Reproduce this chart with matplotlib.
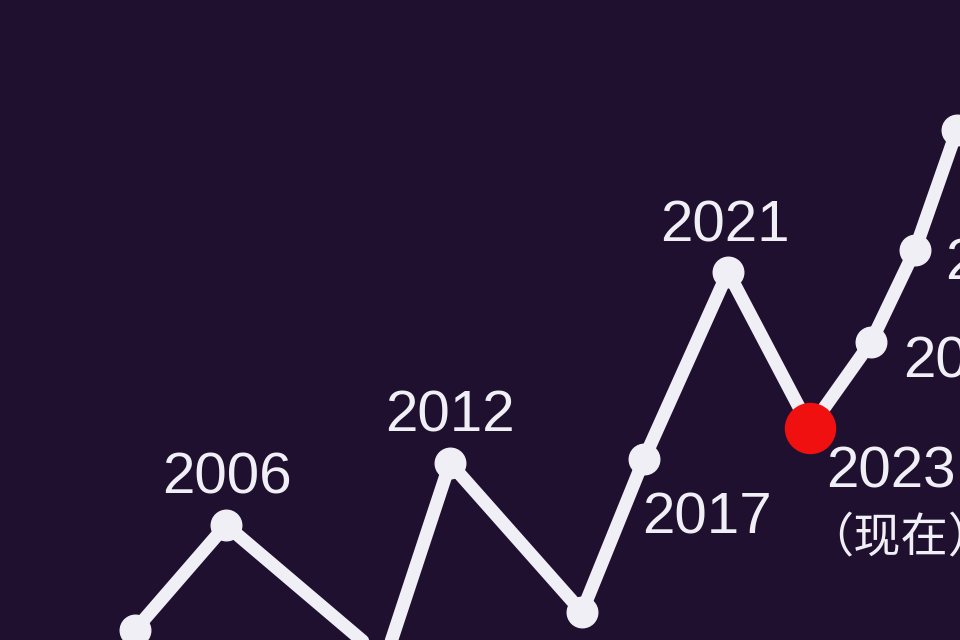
import matplotlib
matplotlib.use("Agg")
import matplotlib.pyplot as plt

# 각 점의 위치와 값
positions = [135, 226, 385, 450, 582, 644, 728, 810, 871, 915, 957]
values = [10, 115, -20, 177, 28, 181, 368, 212, 298, 390, 510]
labels = ["", "2006", "", "2012", "", "2017", "2021", "2023", "2024", "2025", ""]
current_idx = 7
current_note = "（现在）"

# 라벨 위치 (점 기준 오프셋, 픽셀)
label_offsets = {1: (1, 47), 3: (0, 47), 5: (63, -59), 6: (-3, 45),
                 7: (81, -44), 8: (97, -20), 9: (95, -15)}

bg = "#1f1030"
fg = "#f1eff6"

fig = plt.figure(figsize=(9.6, 6.4), dpi=100, facecolor=bg)
ax = fig.add_axes([0, 0, 1, 1])
ax.set_facecolor(bg)
ax.set_xlim(0, 960)
ax.set_ylim(0, 640)
ax.axis("off")

ax.plot(positions, values, color=fg, lw=9.5, solid_capstyle="round", zorder=2)
others = [i for i in range(len(positions)) if i != current_idx]
ax.plot([positions[i] for i in others], [values[i] for i in others], "o",
        color=fg, ms=22, zorder=3)
ax.plot(positions[current_idx], values[current_idx], "o", color="#f01010",
        ms=36, zorder=4)

for i, (dx, dy) in label_offsets.items():
    ax.text(positions[i] + dx, values[i] + dy, labels[i], color=fg,
            fontsize=42, family=["Liberation Sans", "DejaVu Sans"],
            ha="center", va="center", zorder=5)

ax.text(positions[current_idx] - 4, values[current_idx] - 110, current_note,
        color=fg, fontsize=34, family=["Noto Sans CJK SC", "DejaVu Sans"],
        ha="left", va="center", zorder=5)

fig.savefig("out.png", dpi=100, facecolor=bg)
